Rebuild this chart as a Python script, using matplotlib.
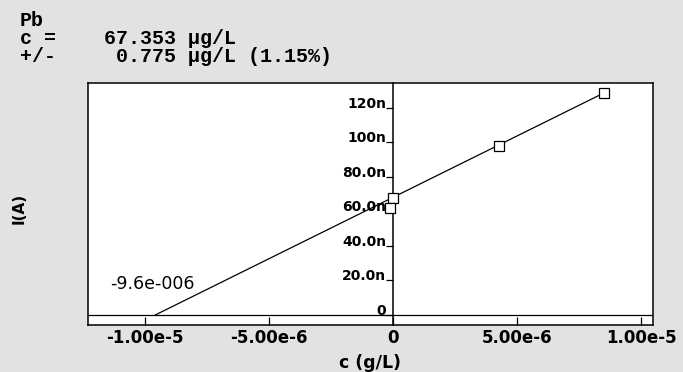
import numpy as np
import matplotlib
matplotlib.use("Agg")
import matplotlib.pyplot as plt

# Pb standard addition
conc_add = [0.0, -0.15e-6, 4.26e-6, 8.51e-6]          # c (g/L)
current = [67.9e-9, 61.9e-9, 97.8e-9, 128.7e-9]        # I (A)
fit_x = [-9.6e-6, 8.51e-6]                              # regression line ends
fit_y = [0.0, 128.7e-9]

xticks = [-1e-5, -5e-6, 0, 5e-6, 1e-5]
xlabels = ["-1.00e-5", "-5.00e-6", "0", "5.00e-6", "1.00e-5"]
yticks = [0, 20e-9, 40e-9, 60e-9, 80e-9, 100e-9, 120e-9]
ylabels = ["0", "20.0n", "40.0n", "60.0n", "80.0n", "100n", "120n"]

header = ["Pb",
          "c =    67.353 \u00b5g/L",
          "+/-     0.775 \u00b5g/L (1.15%)"]
intercept_txt = "-9.6e-006"

W, H = 683, 372
fig = plt.figure(figsize=(W / 100, H / 100), dpi=100, facecolor="#e2e2e2")
ax = fig.add_axes([88.3 / W, 1 - 325 / H, (653.3 - 88.3) / W, (325 - 82.7) / H])
ax.set_facecolor("white")

ax.plot(fit_x, fit_y, color="black", lw=0.9, zorder=3)
ax.plot(conc_add, current, ls="none", marker="s", ms=6.5, mfc="white",
        mec="black", mew=0.9, zorder=4)

ax.set_xlim(-12.3e-6, 10.48e-6)
ax.set_ylim(-5.8e-9, 134.5e-9)

# y axis sits at x = 0, keep a plain frame on the left
ax.spines["left"].set_position(("data", 0))
ax.plot([0, 0], [0, 1], transform=ax.transAxes, color="black", lw=1.1, clip_on=False)
for s in ["left", "right", "top", "bottom"]:
    ax.spines[s].set_linewidth(1.1)
ax.axhline(0, color="black", lw=0.9)

ax.set_xticks(xticks)
ax.set_xticklabels(xlabels, fontsize=12, fontweight="bold", family="DejaVu Sans")
ax.tick_params(axis="x", direction="in", length=6, width=0.9, pad=3)

ax.set_yticks(yticks)
ax.set_yticklabels(ylabels, fontsize=10, fontweight="bold", family="DejaVu Sans")
ax.tick_params(axis="y", direction="out", length=5, width=0.9, pad=0)
for lab in ax.get_yticklabels():
    lab.set_va("baseline")

fig.text(110 / W, 1 - 289 / H, intercept_txt, fontsize=12.5, ha="left",
         va="baseline", family="DejaVu Sans")

fig.text(370 / W, 1 - 363 / H, "c (g/L)", fontsize=12.5, fontweight="bold",
         ha="center", va="center", family="DejaVu Sans")
fig.text(19 / W, 1 - 208 / H, "I(A)", fontsize=11, fontweight="bold",
         rotation=90, ha="center", va="center", family="DejaVu Sans")

for i, line in enumerate(header):
    fig.text(20 / W, 1 - (21 + 18 * i) / H, line, fontsize=14.4, fontweight="bold",
             family="Liberation Mono", ha="left", va="center")

fig.savefig("out.png", dpi=100, facecolor=fig.get_facecolor())
